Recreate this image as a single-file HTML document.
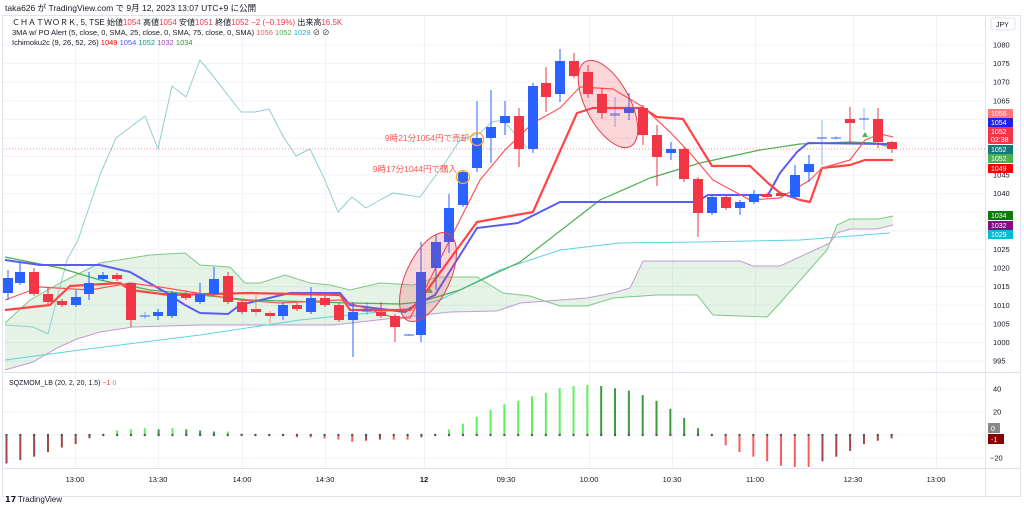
<!DOCTYPE html>
<html><head><meta charset="utf-8">
<style>
html,body{margin:0;padding:0;background:#fff;width:1024px;height:508px;overflow:hidden}
svg{display:block;font-family:"Liberation Sans","Noto Sans CJK JP",sans-serif}
</style></head>
<body>
<svg id="s" width="1024" height="508" viewBox="0 0 1024 508" xmlns="http://www.w3.org/2000/svg">
<rect width="1024" height="508" fill="#fff"/>
<text x="5" y="11" font-size="8.5" fill="#131722">taka626 が TradingView.com で 9月 12, 2023 13:07 UTC+9 に公開</text>
<rect x="2.5" y="15.5" width="1018" height="481" fill="none" stroke="#e0e3eb"/>
<g id="grid" stroke="#f0f3fa" stroke-width="1"></g>
<line x1="3" y1="372.5" x2="1020" y2="372.5" stroke="#e0e3eb"/>
<line x1="985.5" y1="16" x2="985.5" y2="496" stroke="#e0e3eb"/>
<line x1="3" y1="468.5" x2="1020" y2="468.5" stroke="#e0e3eb"/>
<g id="cloud"></g>
<g id="lines" fill="none"></g>
<line x1="3" y1="149" x2="985" y2="149" stroke="#f23645" stroke-width="0.8" stroke-dasharray="1,2" opacity="0.7"/>
<g id="candles"></g>
<g id="ann"></g>
<g id="osc"></g>
<g id="axis" font-size="7.5" fill="#131722"></g>
<g font-size="7.5" fill="#131722">
<text x="12" y="25" font-size="8"><tspan fill="#131722">ＣＨＡＴＷＯＲＫ, 5, TSE  始値</tspan><tspan fill="#f23645">1054</tspan><tspan> 高値</tspan><tspan fill="#f23645">1054</tspan><tspan> 安値</tspan><tspan fill="#f23645">1051</tspan><tspan> 終値</tspan><tspan fill="#f23645">1052  −2 (−0.19%)</tspan><tspan>  出来高</tspan><tspan fill="#f23645">16.5K</tspan></text>
<text x="12" y="35"><tspan>3MA w/ PO Alert (5, close, 0, SMA, 25, close, 0, SMA, 75, close, 0, SMA) </tspan><tspan fill="#f55">1056 </tspan><tspan fill="#4caf50">1052 </tspan><tspan fill="#00bcd4">1029</tspan><tspan> ⊘ ⊘</tspan></text>
<text x="12" y="45"><tspan>Ichimoku2c (9, 26, 52, 26) </tspan><tspan fill="#f00">1049 </tspan><tspan fill="#55f">1054 </tspan><tspan fill="#089981">1052 </tspan><tspan fill="#a040c0">1032 </tspan><tspan fill="#2e9a2e">1034</tspan></text>
<text x="9" y="385" font-size="7"><tspan>SQZMOM_LB (20, 2, 20, 1.5) </tspan><tspan fill="#f23645">−1 </tspan><tspan fill="#999">0</tspan></text>
<rect x="991" y="18" width="24" height="12" fill="#fff" stroke="#e0e3eb" rx="2"/>
<text x="996" y="27" font-size="7">JPY</text>
<text x="5" y="502" font-size="8" font-weight="bold">𝟭𝟳</text><text x="18" y="502" font-size="8">TradingView</text>
</g>
<g id="labels" font-size="7" fill="#fff"></g>
</svg>
<script>
const NS="http://www.w3.org/2000/svg";
function el(p,t,a,txt){const e=document.createElementNS(NS,t);for(const k in a)e.setAttribute(k,a[k]);if(txt!==undefined)e.textContent=txt;document.getElementById(p).appendChild(e);return e;}
const Y=p=>45+(1080-p)*3.718;
// grid
const tx=[75,158,242,325,424,506,589,672,755,853,936];
tx.forEach(x=>{el('grid','line',{x1:x+.5,y1:16,x2:x+.5,y2:468});});
for(let p=995;p<=1080;p+=5){el('grid','line',{x1:3,y1:Y(p),x2:985,y2:Y(p)});}
[389,412,435,458].forEach(y=>el('grid','line',{x1:3,y1:y,x2:985,y2:y}));
// axis labels
for(let p=995;p<=1080;p+=5){if(p!=1035)el('axis','text',{x:993,y:Y(p)+2.5},p);}
const tl=["13:00","13:30","14:00","14:30","12","09:30","10:00","10:30","11:00","12:30","13:00"];
tx.forEach((x,i)=>el('axis','text',{x:x,y:482,'text-anchor':'middle','font-weight':i==4?'bold':'normal'},tl[i]));
[[40,389],[20,412],[-20,458]].forEach(a=>el('axis','text',{x:a[0]<0?990:993,y:a[1]+2.5},a[0]<0?'−20':a[0]));
// cloud
const ga=[[5,323],[30,300],[60,283],[100,263],[150,255],[185,253],[200,265],[230,267],[245,283],[260,283],[285,275],[310,283],[330,285],[350,290],[380,283],[413,285],[437,277],[477,277],[503,293],[530,296],[560,306],[587,306],[613,298],[657,295],[697,295],[713,315],[767,317],[780,303],[827,250],[837,225],[850,219],[878,219],[893,216]];
const pb=[[5,370],[33,362],[57,348],[77,339],[100,332],[133,327],[200,325],[333,325],[450,312],[497,311],[520,303],[587,298],[613,293],[630,288],[643,261],[740,261],[753,266],[780,266],[830,243],[837,233],[850,229],[877,229],[893,225]];
const ps=a=>a.map(p=>p.join(',')).join(' ');
el('cloud','polygon',{points:ps(ga)+' '+ps(pb.slice().reverse()),fill:'rgba(76,175,80,0.15)'});
el('cloud','polyline',{points:ps(ga),fill:'none',stroke:'#81c784','stroke-width':1});
el('cloud','polyline',{points:ps(pb),fill:'none',stroke:'#c39bd3','stroke-width':1});
// lines
const L=(pts,c,w,o)=>el('lines','polyline',{points:ps(pts),stroke:c,'stroke-width':w,opacity:o||1,'stroke-linejoin':'round'});
L([[5,325],[33,327],[48,334],[60,287],[67,260],[78,240],[100,175],[116,138],[145,116],[158,149],[172,86],[186,97],[200,60],[213,76],[241,112],[255,112],[269,109],[283,136],[296,156],[310,149],[324,178],[338,212],[352,197],[366,208],[380,200],[393,193],[420,197],[447,160],[460,140],[480,133],[492,122],[503,120],[527,148]],'#8fcfcf',1);
L([[5,360],[80,350],[200,335],[300,320],[400,310],[440,300],[500,270],[560,250],[620,243],[700,242],[800,240],[890,233]],'#5fd3e0',1);
L([[5,257],[60,268],[100,280],[150,290],[250,300],[350,303],[400,304],[420,302],[460,290],[520,262],[600,200],[650,178],[700,163],[760,150],[800,144],[850,142],[875,143],[893,148]],'#4caf50',1.2);
L([[5,260],[40,265],[100,265],[130,272],[165,292],[185,305],[200,313],[228,314],[240,305],[290,293],[340,293],[350,305],[405,312],[415,305],[435,295],[477,228],[518,223],[560,202],[696,202],[708,195],[768,195],[780,173],[797,152],[808,143],[887,144]],'#5b5bf5',2);
L([[5,310],[50,305],[70,286],[120,283],[130,290],[170,295],[250,293],[340,295],[350,310],[410,310],[420,300],[477,222],[533,212],[577,113],[593,108],[643,108],[657,117],[683,119],[712,166],[750,166],[768,183],[780,193],[800,200],[810,202],[822,168],[850,165],[865,160],[893,160]],'#f44',2.2);
L([[5,300],[40,287],[90,290],[130,283],[160,287],[240,300],[280,303],[340,300],[395,318],[410,318],[423,293],[480,180],[505,150],[533,123],[560,108],[580,87],[613,89],[643,107],[670,132],[690,153],[713,180],[750,200],[780,198],[810,180],[822,168],[850,160],[865,140],[880,134],[893,137]],'#f55',1.2);
el('lines','path',{d:'M862 137 l3 -5 l3 5z',fill:'#4caf50'});
el('lines','path',{d:'M427 293 l3 -5 l3 5z',fill:'#4caf50'});
// candles [x,o_y,c_y,hi,lo,up]
const C=[[8,278,293,270,300,1],[20,272,283,262,285,1],[34,272,294,268,296,0],[48,294,302,287,304,0],[62,301,305,299,307,0],[76,297,305,290,307,1],[89,283,294,272,300,1],[103,275,279,272,281,1],[117,275,279,273,281,0],[131,283,320,283,327,0],[145,315,317,312,319,1],[158,312,316,309,320,1],[172,293,316,291,318,1],[186,294,298,291,300,0],[200,294,302,283,304,1],[214,279,294,267,295,1],[228,276,302,272,304,0],[242,302,312,300,314,0],[256,309,312,295,316,0],[270,313,316,311,323,0],[283,305,316,302,320,1],[297,305,309,303,311,0],[311,298,312,287,314,1],[325,298,305,296,307,0],[339,305,320,303,322,0],[353,312,320,302,357,1],[367,309,312,302,315,1],[381,312,316,302,318,0],[395,316,327,314,342,0],[409,334,336,334,336,1],[421,272,335,242,342,1],[436,242,268,235,290,1],[449,208,242,194,253,1],[463,172,205,170,207,1],[477,138,168,101,172,1],[491,127,138,90,163,1],[505,116,123,101,135,1],[519,116,149,108,167,0],[533,86,149,83,153,1],[546,83,97,67,112,0],[560,61,94,49,102,1],[574,61,76,53,78,0],[588,72,94,65,98,0],[602,94,113,88,119,0],[615,113,116,97,127,1],[629,108,113,93,120,1],[643,108,135,105,145,0],[657,135,157,125,186,0],[671,149,153,142,160,1],[684,149,179,147,182,0],[698,179,213,177,237,0],[712,197,213,195,215,1],[726,197,208,195,210,0],[740,202,208,200,215,1],[754,194,202,190,204,1],[767,194,197,192,199,0],[781,193,196,191,198,0],[795,175,197,165,199,1],[809,164,172,155,182,1],[822,137,139,120,165,1],[836,137,139,136,140,1],[850,119,123,107,143,0],[864,118,120,108,130,1],[878,119,142,108,148,0],[892,142,149,141,153,0]];
C.forEach(c=>{const col=c[5]?'#2962ff':'#f23645';const t=Math.min(c[1],c[2]),b=Math.max(c[1],c[2]);
el('candles','line',{x1:c[0],y1:c[3],x2:c[0],y2:c[4],stroke:col,'stroke-width':1,opacity:(b-t<4?0.5:1)});
el('candles','rect',{x:c[0]-5,y:t,width:10,height:Math.max(b-t,1.5),fill:col,opacity:(b-t<4&&c[5]?0.5:1)});});
// annotations
el('ann','ellipse',{cx:428,cy:277,rx:22,ry:48,transform:'rotate(25 428 277)',fill:'rgba(242,54,69,0.2)',stroke:'#e04050','stroke-width':1});
el('ann','ellipse',{cx:608,cy:104,rx:22,ry:48,transform:'rotate(-28 608 104)',fill:'rgba(242,54,69,0.2)',stroke:'#e04050','stroke-width':1});
el('ann','circle',{cx:477,cy:139,r:6.5,fill:'none',stroke:'#ffa726','stroke-width':1.3});
el('ann','circle',{cx:463,cy:177,r:6.5,fill:'none',stroke:'#ffa726','stroke-width':1.3});
el('ann','text',{x:469,y:141,'text-anchor':'end','font-size':8.5,fill:'#f55'},'9時21分1054円で売却');
el('ann','text',{x:457,y:172,'text-anchor':'end','font-size':8.5,fill:'#f55'},'9時17分1044円で購入');
// oscillator
const V=[-25,-22,-19,-15,-11,-8,-3,1,4,5,6,5,6,5,4,3,3,1,-1,-1,-1,-2,-2,-3,-4,-6,-5,-4,-4,-4,-2,1,5,10,16,22,27,30,34,37,41,43,44,43,41,39,35,30,23,15,6,-1,-9,-15,-19,-23,-27,-28,-28,-23,-19,-14,-8,-5,-3];
V.forEach((v,i)=>{const x=6.5+i*13.83;const prev=i?V[i-1]:v-1;let col;
if(v>=0)col=v>=prev?'#5ef05e':'#3d9a3d';else col=v<=prev?'#ff5a5a':'#a04848';
const h=v*1.14;el('osc','rect',{x:x-1,y:Math.min(435,435-h),width:2,height:Math.max(Math.abs(h),1),fill:col});
el('osc','circle',{cx:x,cy:435,r:1.2,fill:'#555'});});
// labels
const lb=[[109,9,'#f77','1056'],[118,9,'#1e22f0','1054'],[145,9,'#137a7a','1052'],[154,9,'#4caf50','1052'],[164,9,'#f00','1049'],[211,9,'#0a7a0a','1034'],[221,9,'#801080','1032'],[230,9,'#00bcd4','1029']];
lb.forEach(l=>{el('labels','rect',{x:988,y:l[0],width:25,height:l[1],fill:l[2]});el('labels','text',{x:991,y:l[0]+7},l[3]);});
el('labels','rect',{x:988,y:127,width:25,height:17,fill:'#f23645',rx:1});
el('labels','text',{x:991,y:134},'1052');el('labels','text',{x:991,y:142},'02:38');
el('labels','rect',{x:988,y:423,width:12,height:10,fill:'#888'});el('labels','text',{x:991,y:431},'0');
el('labels','rect',{x:988,y:434,width:16,height:10,fill:'#8b0000'});el('labels','text',{x:991,y:442},'-1');
</script>
</body></html>
